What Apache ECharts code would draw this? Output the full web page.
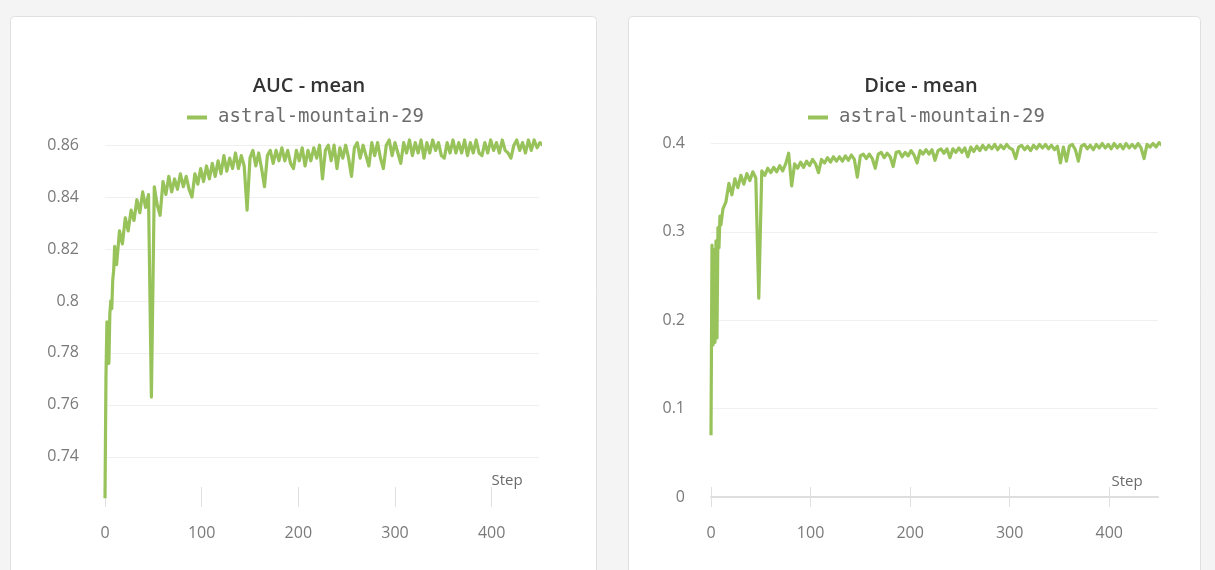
<!DOCTYPE html>
<html>
<head>
<meta charset="utf-8">
<script src="https://cdn.jsdelivr.net/npm/echarts@6/dist/echarts.min.js"></script>
<style>
html,body{margin:0;padding:0;background:#f4f4f4;}
#c{width:1215px;height:570px;}
</style>
</head>
<body>
<div id="c"></div>
<script>
// ---- data ----
const runName = 'astral-mountain-29';
const xTickValues = [0, 100, 200, 300, 400];
const aucTickValues = [0.74, 0.76, 0.78, 0.8, 0.82, 0.84, 0.86];
const diceTickValues = [0, 0.1, 0.2, 0.3, 0.4];

const steps = [
  0,1,2,3,4,5,6,7,8,9,
  10,12,15,18,21,24,27,30,33,36,
  39,42,45,48,51,54,57,60,63,66,
  69,72,75,78,81,84,87,90,93,96,
  99,102,105,108,111,114,117,120,123,126,
  129,132,135,138,141,144,147,150,153,156,
  159,162,165,168,171,174,177,180,183,186,
  189,192,195,198,201,204,207,210,213,216,
  219,222,225,228,231,234,237,240,243,246,
  249,252,255,258,261,264,267,270,273,276,
  279,282,285,288,291,294,297,300,303,306,
  309,312,315,318,321,324,327,330,333,336,
  339,342,345,348,351,354,357,360,363,366,
  369,372,375,378,381,384,387,390,393,396,
  399,402,405,408,411,414,417,420,423,426,
  429,432,435,438,441,444,447,450,453
];

const aucMean = [
  0.724,0.771,0.792,0.786,0.776,0.795,0.800,0.797,0.808,0.812,
  0.821,0.814,0.827,0.822,0.832,0.827,0.835,0.831,0.839,0.834,
  0.842,0.836,0.841,0.763,0.844,0.837,0.833,0.846,0.841,0.848,
  0.842,0.847,0.843,0.849,0.844,0.848,0.843,0.840,0.849,0.845,
  0.851,0.846,0.852,0.847,0.853,0.848,0.854,0.849,0.856,0.850,
  0.855,0.851,0.857,0.851,0.856,0.852,0.835,0.855,0.858,0.852,
  0.857,0.851,0.844,0.856,0.858,0.853,0.858,0.854,0.859,0.854,
  0.858,0.853,0.851,0.858,0.854,0.859,0.852,0.858,0.854,0.859,
  0.855,0.860,0.847,0.858,0.860,0.854,0.860,0.851,0.859,0.855,
  0.860,0.855,0.848,0.859,0.861,0.855,0.860,0.856,0.852,0.861,
  0.856,0.861,0.855,0.851,0.860,0.862,0.856,0.861,0.857,0.853,
  0.861,0.857,0.862,0.856,0.861,0.857,0.862,0.855,0.861,0.857,
  0.862,0.858,0.861,0.856,0.855,0.861,0.857,0.862,0.857,0.861,
  0.857,0.862,0.856,0.861,0.857,0.862,0.857,0.856,0.861,0.857,
  0.862,0.858,0.861,0.857,0.862,0.858,0.857,0.855,0.860,0.862,
  0.858,0.861,0.857,0.862,0.858,0.862,0.859,0.861,0.860
];

const diceMean = [
  0.070,0.285,0.172,0.280,0.175,0.290,0.180,0.305,0.282,0.318,
  0.308,0.326,0.334,0.355,0.342,0.360,0.350,0.364,0.354,0.366,
  0.358,0.368,0.361,0.225,0.369,0.364,0.372,0.367,0.373,0.368,
  0.375,0.369,0.377,0.389,0.352,0.377,0.372,0.379,0.373,0.380,
  0.375,0.382,0.377,0.367,0.382,0.378,0.384,0.379,0.385,0.380,
  0.385,0.380,0.386,0.381,0.387,0.382,0.362,0.386,0.388,0.383,
  0.388,0.383,0.372,0.388,0.390,0.384,0.389,0.385,0.374,0.390,
  0.391,0.385,0.390,0.386,0.392,0.387,0.378,0.392,0.388,0.393,
  0.388,0.393,0.381,0.392,0.394,0.389,0.394,0.384,0.394,0.390,
  0.395,0.390,0.395,0.385,0.396,0.391,0.397,0.392,0.398,0.393,
  0.398,0.394,0.399,0.393,0.398,0.394,0.399,0.395,0.393,0.383,
  0.396,0.398,0.393,0.397,0.392,0.398,0.394,0.399,0.395,0.399,
  0.394,0.398,0.393,0.397,0.378,0.396,0.380,0.397,0.399,0.393,
  0.380,0.397,0.399,0.394,0.398,0.393,0.399,0.395,0.400,0.395,
  0.399,0.394,0.400,0.395,0.399,0.394,0.400,0.395,0.399,0.395,
  0.400,0.395,0.383,0.399,0.396,0.400,0.396,0.401,0.398
];

// ---- chart ----
const GREEN = '#98c35b';
const LABEL = '#7a7a7a';
const FONT = "'Open Sans', 'Noto Sans', sans-serif";
const pairs = ys => steps.map((s, i) => [s, ys[i]]);

const chart = echarts.init(document.getElementById('c'), null, {renderer: 'canvas'});

function xAxes(gridIndex, showLine) {
  const base = {
    gridIndex, type: 'value', min: 0, max: 449, position: 'bottom',
    splitLine: {show: false}
  };
  return [
    Object.assign({}, base, {
      axisLine: {show: showLine, onZero: false, lineStyle: {color: '#dedede', width: 2}},
      axisTick: {show: true, inside: true, length: 10, customValues: xTickValues, lineStyle: {color: '#e0e0e0'}},
      axisLabel: {customValues: xTickValues, margin: 28, color: LABEL, fontSize: 16, fontFamily: FONT}
    }),
    Object.assign({}, base, {
      axisLine: {show: false, onZero: false},
      axisTick: {show: true, inside: false, length: 10, customValues: xTickValues, lineStyle: {color: '#e0e0e0'}},
      axisLabel: {show: false}
    })
  ];
}

function yAxis(gridIndex, min, max, ticks) {
  return {
    gridIndex, type: 'value', min, max,
    axisLine: {show: false},
    axisTick: {show: false, customValues: ticks},
    axisLabel: {customValues: ticks, margin: 26, color: LABEL, fontSize: 16, fontFamily: FONT},
    splitLine: {show: true, lineStyle: {color: '#f0f0f0', width: 1}}
  };
}

const legendBase = {
  data: [runName], icon: 'rect', itemWidth: 20, itemHeight: 4, selectedMode: false,
  top: 103,
  textStyle: {fontFamily: "'DejaVu Sans Mono', monospace", fontSize: 19, color: '#6c6c6c', padding: [0, 0, 0, 6]}
};

chart.setOption({
  backgroundColor: '#f4f4f4',
  animation: false,
  graphic: [
    {type: 'rect', z: -10, shape: {x: 10.5, y: 16.5, width: 586, height: 580, r: 4},
     style: {fill: '#ffffff', stroke: '#e0e0e0', lineWidth: 1}},
    {type: 'rect', z: -10, shape: {x: 628.5, y: 16.5, width: 572, height: 580, r: 4},
     style: {fill: '#ffffff', stroke: '#e0e0e0', lineWidth: 1}},
    {type: 'text', x: 309, y: 86, style: {text: 'AUC - mean', align: 'center', verticalAlign: 'middle',
      font: "600 20px 'Open Sans', 'Noto Sans', sans-serif", fill: '#333333'}},
    {type: 'text', x: 921, y: 86, style: {text: 'Dice - mean', align: 'center', verticalAlign: 'middle',
      font: "600 20px 'Open Sans', 'Noto Sans', sans-serif", fill: '#333333'}},
    {type: 'text', x: 507, y: 481, style: {text: 'Step', align: 'center', verticalAlign: 'middle',
      font: "15px 'Open Sans', 'Noto Sans', sans-serif", fill: '#6a6a6a'}},
    {type: 'text', x: 1127, y: 482, style: {text: 'Step', align: 'center', verticalAlign: 'middle',
      font: "15px 'Open Sans', 'Noto Sans', sans-serif", fill: '#6a6a6a'}}
  ],
  legend: [
    Object.assign({}, legendBase, {left: 182}),
    Object.assign({}, legendBase, {left: 803})
  ],
  grid: [
    {left: 105, top: 140, width: 434, height: 357},
    {left: 711, top: 140, width: 447, height: 357}
  ],
  xAxis: [].concat(xAxes(0, false), xAxes(1, true)),
  yAxis: [
    yAxis(0, 0.7245, 0.862, aucTickValues),
    yAxis(1, 0, 0.404, diceTickValues)
  ],
  series: [
    {name: runName, type: 'line', xAxisIndex: 0, yAxisIndex: 0, data: pairs(aucMean),
     showSymbol: false, clip: false, lineStyle: {color: GREEN, width: 3.2, join: 'round'}, itemStyle: {color: GREEN}},
    {name: runName, type: 'line', xAxisIndex: 2, yAxisIndex: 1, data: pairs(diceMean),
     showSymbol: false, clip: false, lineStyle: {color: GREEN, width: 3.2, join: 'round'}, itemStyle: {color: GREEN}}
  ]
});
</script>
</body>
</html>
